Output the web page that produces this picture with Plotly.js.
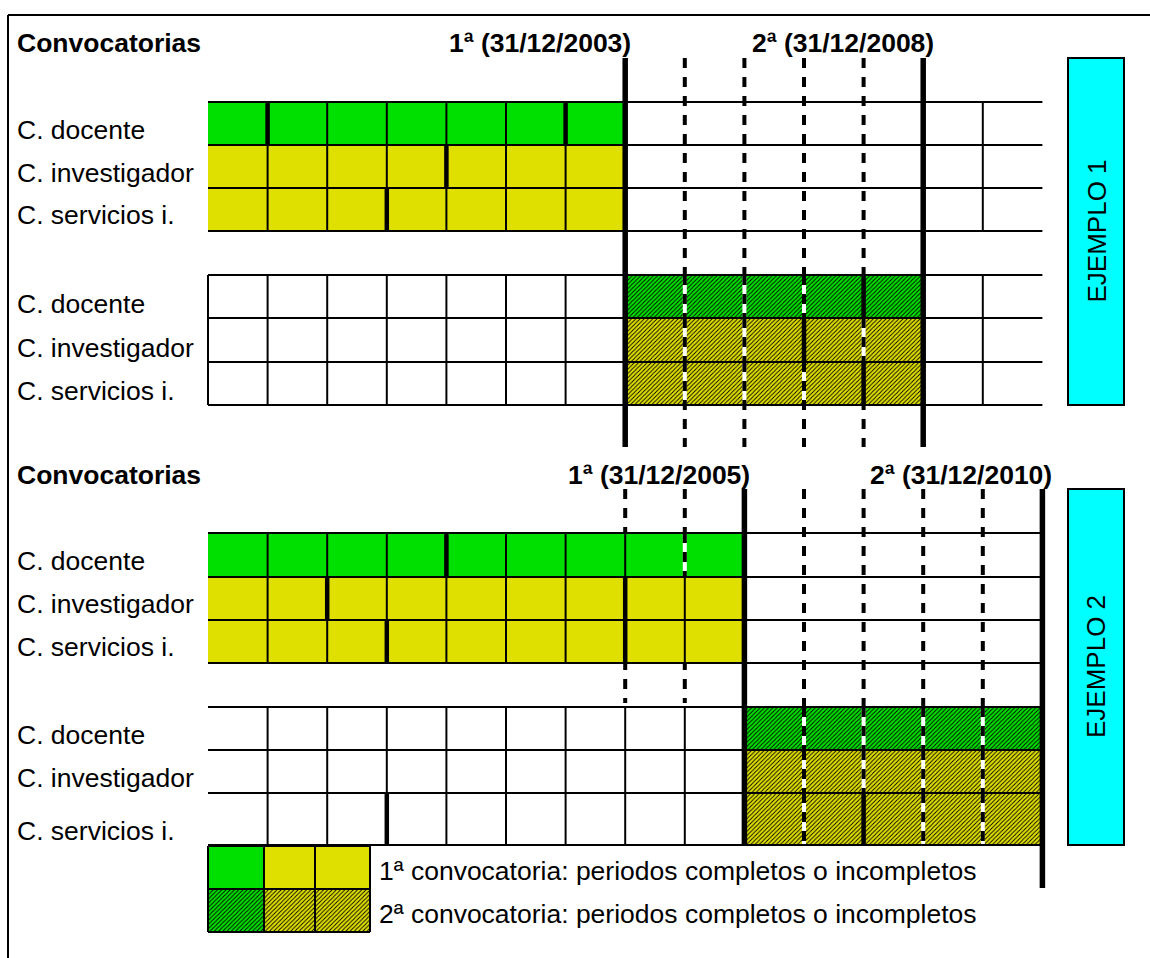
<!DOCTYPE html>
<html>
<head>
<meta charset="utf-8">
<script src="https://cdn.plot.ly/plotly-3.0.1.min.js"></script>
<style>html,body{margin:0;padding:0;background:#fff;}#chart{width:1150px;height:958px;}</style>
</head>
<body>
<div id="chart"></div>
<script>
// ---------------- DATA ----------------
const categorias = ['C. docente', 'C. investigador', 'C. servicios i.'];
const ejemplos = ['EJEMPLO 1', 'EJEMPLO 2'];
const n_columnas = 14;
const ej1_convocatorias = ['1ª (31/12/2003)', '2ª (31/12/2008)'];
const ej2_convocatorias = ['1ª (31/12/2005)', '2ª (31/12/2010)'];
const ej1_fechas = [7, 12];          // column boundary of each deadline
const ej2_fechas = [9, 14];
const ej1_conv1 = [0, 7];            // periods counted in 1ª convocatoria (from, to)
const ej1_conv2 = [7, 12];           // periods counted in 2ª convocatoria
const ej2_conv1 = [0, 9];
const ej2_conv2 = [9, 14];
const ej1_marcas = [8, 9, 10, 11];   // yearly dashed marks
const ej2_marcas_a = [7, 8];
const ej2_marcas_b = [10, 11, 12, 13];
// cell boundaries per row (0..14): n = line, T = end of period, d = dashed mark only, ' ' = none
const ej1_bordes = [
  ' TnnnnT dddd n ',
  ' nnnTnn dddd n ',
  ' nnTnnn dddd n ',
  'nnnnnnn dddT n ',
  'nnnnnnn ddTd n ',
  'nnnnnnn dddT n '
];
const ej2_bordes = [
  ' nnnTnnnd dddd ',
  ' nTnnnnTn dddd ',
  ' nnTnnnTn dddd ',
  ' nnnnnnnn dddd ',
  ' nnnnnnnn dddd ',
  ' nnTnnnnn dTdd '
];
const leyenda = ['1ª convocatoria: periodos completos o incompletos',
                 '2ª convocatoria: periodos completos o incompletos'];

// ---------------- LAYOUT / STYLE ----------------
const W = 1150, H = 958;
const X0 = 208, CW = 59.6;
const px2x = p => (p - X0) / CW;
const GREEN = '#00E000', YELLOW = '#E0E000', CYAN = '#00FFFF';
const FONT = 'Liberation Sans, Arial, sans-serif';
const FS = 26.5;

const secciones = [
  { conv: ej1_convocatorias, fechas: ej1_fechas, c1: ej1_conv1, c2: ej1_conv2, bordes: ej1_bordes,
    marcas: [{cols: ej1_marcas, y0: 58, y1: 447}],
    fechaEnd: [447, 447], top: 58, header: 42.5,
    rows1: [102, 145, 188, 231], rows2: [275, 318, 362, 405],
    lab1: [129.5, 172.5, 214.5], lab2: [304, 347.5, 391],
    labOff: [8, 13], box: [58, 405] },
  { conv: ej2_convocatorias, fechas: ej2_fechas, c1: ej2_conv1, c2: ej2_conv2, bordes: ej2_bordes,
    marcas: [{cols: ej2_marcas_a, y0: 489, y1: 703}, {cols: ej2_marcas_b, y0: 489, y1: 845}],
    fechaEnd: [845, 888], top: 489, header: 475,
    rows1: [533, 577, 620, 663], rows2: [707, 750, 793, 845],
    lab1: [561, 604, 647], lab2: [735, 778, 831],
    labOff: [8, 12], box: [489, 845] }
];

const traces = [];
const shapesBelow = [];
const halo = [];
const hlines = [];
const vlines = [];
const deadl = [];
const annotations = [];

function line(x0, y0, x1, y1, w, color, dash, layer) {
  return { type: 'line', xref: 'x', yref: 'y', x0: x0, y0: y0, x1: x1, y1: y1,
           line: { width: w, color: color, dash: dash || 'solid' }, layer: layer || 'above' };
}
function bar(y0, y1, from, to, color, hatched) {
  const m = { color: color, line: { width: 0 } };
  if (hatched) m.pattern = { shape: '/', size: 3, solidity: 0.3, fgcolor: '#000000', bgcolor: color, fillmode: 'replace' };
  traces.push({ type: 'bar', orientation: 'h', y: [(y0 + y1) / 2], x: [to - from], base: [from],
                width: [y1 - y0], marker: m, hoverinfo: 'skip', showlegend: false });
}
const DASH = '10px,9px';

secciones.forEach((s, e) => {
  // dashed yearly marks (under the cells)
  s.marcas.forEach(mk => mk.cols.forEach(c => shapesBelow.push(line(c, mk.y0, c, mk.y1, 4, '#000', DASH, 'below'))));
  // cells
  [0, 1].forEach(b => {
    const rows = b === 0 ? s.rows1 : s.rows2;
    const conv = b === 0 ? s.c1 : s.c2;
    categorias.forEach((cat, i) => {
      bar(rows[i], rows[i + 1], conv[0], conv[1], i === 0 ? GREEN : YELLOW, b === 1);
      const str = s.bordes[b * 3 + i];
      for (let k = 0; k <= n_columnas; k++) {
        const ch = str[k];
        if (ch === 'n') vlines.push(line(k, rows[i], k, rows[i + 1], 2, '#000'));
        else if (ch === 'T') vlines.push(line(k, rows[i], k, rows[i + 1], 4.5, '#000'));
        else if (ch === 'd' && k > conv[0] && k < conv[1]) {
          halo.push(line(k, rows[i], k, rows[i + 1], 4, '#ffffff'));
          halo.push(line(k, rows[i], k, rows[i + 1], 4, '#000', DASH));
        }
      }
      annotations.push({ xref: 'paper', yref: 'y', x: 14.5 / W, y: (b === 0 ? s.lab1 : s.lab2)[i],
        text: cat, showarrow: false, xanchor: 'left', yanchor: 'middle', font: { family: FONT, size: FS, color: '#000' } });
    });
    rows.forEach(y => hlines.push(line(0, y, n_columnas, y, 2, '#000')));
  });
  // deadlines
  s.fechas.forEach((f, j) => {
    deadl.push(line(f, s.top, f, s.fechaEnd[j], 5.5, '#000'));
    annotations.push({ xref: 'x', yref: 'y', x: f + s.labOff[j] / CW, y: s.header, text: '<b>' + s.conv[j] + '</b>',
      showarrow: false, xanchor: 'right', yanchor: 'middle', font: { family: FONT, size: FS, color: '#000' } });
  });
  annotations.push({ xref: 'paper', yref: 'y', x: 15 / W, y: s.header, text: '<b>Convocatorias</b>',
    showarrow: false, xanchor: 'left', yanchor: 'middle', font: { family: FONT, size: FS, color: '#000' } });
  // example box
  deadl.push({ type: 'rect', xref: 'x', yref: 'y', x0: px2x(1068), x1: px2x(1124), y0: s.box[0], y1: s.box[1],
    fillcolor: CYAN, line: { color: '#000', width: 2 }, layer: 'above' });
  annotations.push({ xref: 'x', yref: 'y', x: px2x(1096), y: (s.box[0] + s.box[1]) / 2, text: ejemplos[e],
    textangle: -90, showarrow: false, xanchor: 'center', yanchor: 'middle', font: { family: FONT, size: 26, color: '#000' } });
});

// legend swatches
const LX = [208, 264, 315, 370].map(px2x), LY = [846, 889, 932];
const lcol = [GREEN, YELLOW, YELLOW];
[0, 1].forEach(r => {
  lcol.forEach((c, j) => bar(LY[r], LY[r + 1], LX[j], LX[j + 1], c, r === 1));
  annotations.push({ xref: 'paper', yref: 'y', x: 377 / W, y: [871, 914][r], text: leyenda[r],
    showarrow: false, xanchor: 'left', yanchor: 'middle', font: { family: FONT, size: FS, color: '#000' } });
});
LY.forEach(y => deadl.push(line(LX[0], y, LX[3], y, 2, '#000')));
LX.forEach(x => deadl.push(line(x, LY[0], x, LY[2], 2, '#000')));

// outer frame
deadl.push(line(px2x(8), 15, px2x(1160), 15, 2, '#000'));
deadl.push(line(px2x(8), 15, px2x(8), 970, 2, '#000'));

const layout = {
  width: W, height: H, margin: { l: 0, r: 0, t: 0, b: 0, pad: 0 },
  paper_bgcolor: '#ffffff', plot_bgcolor: '#ffffff',
  barmode: 'overlay', showlegend: false, hovermode: false,
  xaxis: { range: [px2x(0), px2x(W)], visible: false, fixedrange: true },
  yaxis: { range: [H, 0], visible: false, fixedrange: true },
  shapes: shapesBelow.concat(halo, hlines, vlines, deadl),
  annotations: annotations
};
Plotly.newPlot('chart', traces, layout, { staticPlot: true, displayModeBar: false });
</script>
</body>
</html>
